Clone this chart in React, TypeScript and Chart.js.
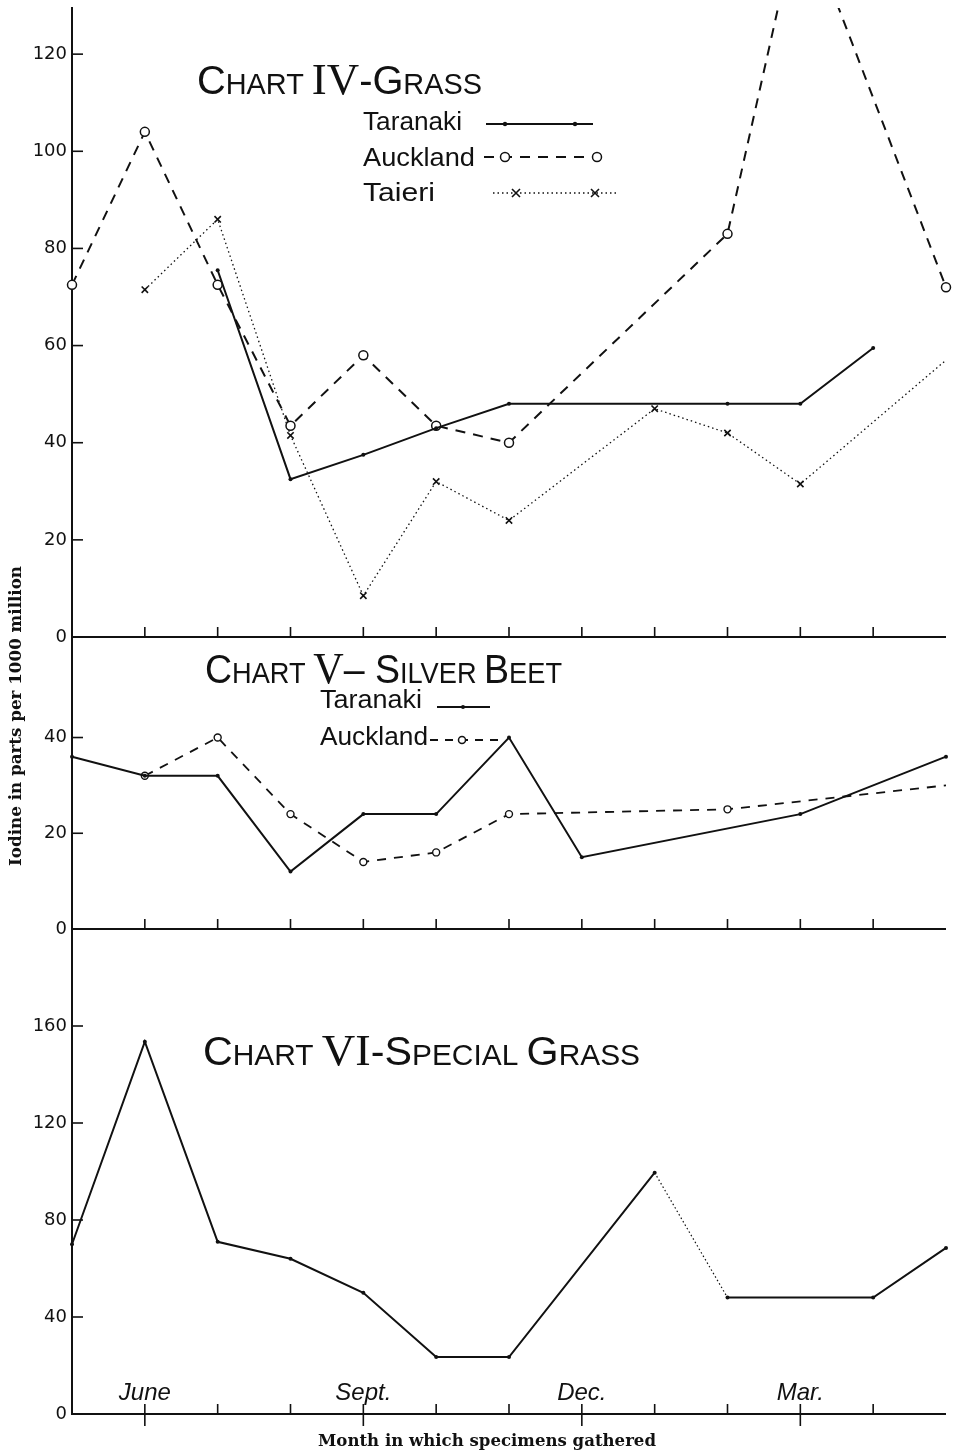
import { useEffect, useRef } from 'react';
import { Chart, registerables } from 'chart.js';

Chart.register(...registerables);

// ---------- data ----------
const months = ['May', 'June', 'July', 'Aug.', 'Sept.', 'Oct.', 'Nov.', 'Dec.', 'Jan.', 'Feb.', 'Mar.', 'Apr.', 'May'];
const labeledMonthIdx = [1, 4, 7, 10];

// Chart IV - Grass
const grassTaranaki = [null, null, 75.5, 32.5, 37.5, 43, 48, null, null, 48, 48, 59.5, null];
const grassAuckland = [72.5, 104, 72.5, 43.5, 58, 43.5, 40, null, null, 83, 150, null, 72];
const grassTaieri = [null, 71.5, 86, 41.5, 8.5, 32, 24, null, 47, 42, 31.5, null, 57];

// Chart V - Silver Beet
const beetTaranaki = [36, 32, 32, 12, 24, 24, 40, 15, null, null, 24, null, 36];
const beetAuckland = [null, 32, 40, 24, 14, 16, 24, null, null, 25, null, null, 30];

// Chart VI - Special Grass
const specialGrass = [70, 153.5, 71, 64, 50, 23.5, 23.5, null, 99.5, 48, null, 48, 68.5];
const specialDottedFrom = [8];

const grassTicks = [0, 20, 40, 60, 80, 100, 120];
const beetTicks = [0, 20, 40];
const specialTicks = [0, 40, 80, 120, 160];

const seriesNames = ['Taranaki', 'Auckland', 'Taieri'];
const yTitle = 'Iodine in parts per 1000 million';
const xTitle = 'Month in which specimens gathered';

type Part = [string, 'C' | 's' | 'R'];
const titleGrass: Part[] = [['C', 'C'], ['HART', 's'], [' ', 's'], ['IV', 'R'], ['-', 'C'], ['G', 'C'], ['RASS', 's']];
const titleBeet: Part[] = [['C', 'C'], ['HART', 's'], [' ', 's'], ['V', 'R'], ['– ', 'C'], ['S', 'C'], ['ILVER', 's'], [' ', 's'], ['B', 'C'], ['EET', 's']];
const titleSpecial: Part[] = [['C', 'C'], ['HART', 's'], [' ', 's'], ['VI', 'R'], ['-', 'C'], ['S', 'C'], ['PECIAL', 's'], [' ', 's'], ['G', 'C'], ['RASS', 's']];

// ---------- style ----------
const INK = '#111111';
const SANS = "'Liberation Sans', Arial, sans-serif";
const SERIF = "'Liberation Serif', 'DejaVu Serif', serif";

function fitText(ctx: CanvasRenderingContext2D, text: string, x: number, y: number, w: number, font: string) {
  ctx.save();
  ctx.font = font;
  ctx.textAlign = 'left';
  ctx.textBaseline = 'alphabetic';
  const m = ctx.measureText(text).width;
  ctx.translate(x, y);
  ctx.scale(w / m, 1);
  ctx.fillText(text, 0, 0);
  ctx.restore();
}

function drawTitle(ctx: CanvasRenderingContext2D, parts: Part[], x: number, y: number, w: number) {
  const fonts: Record<string, string> = {
    C: `40px ${SANS}`,
    s: `29px ${SANS}`,
    R: `45px ${SERIF}`,
  };
  ctx.save();
  ctx.textAlign = 'left';
  ctx.textBaseline = 'alphabetic';
  let total = 0;
  const widths = parts.map(([t, k]) => {
    ctx.font = fonts[k];
    const m = ctx.measureText(t).width;
    total += m;
    return m;
  });
  const sc = w / total;
  ctx.translate(x, y);
  ctx.scale(sc, 1);
  let cx = 0;
  parts.forEach(([t, k], i) => {
    ctx.font = fonts[k];
    ctx.fillText(t, cx, 0);
    cx += widths[i];
  });
  ctx.restore();
}

function circleMark(ctx: CanvasRenderingContext2D, x: number, y: number, r: number) {
  ctx.save();
  ctx.fillStyle = '#fff';
  ctx.lineWidth = 1.5;
  ctx.setLineDash([]);
  ctx.beginPath();
  ctx.arc(x, y, r, 0, Math.PI * 2);
  ctx.fill();
  ctx.stroke();
  ctx.restore();
}
function dotMark(ctx: CanvasRenderingContext2D, x: number, y: number, r: number) {
  ctx.beginPath();
  ctx.arc(x, y, r, 0, Math.PI * 2);
  ctx.fill();
}
function crossMark(ctx: CanvasRenderingContext2D, x: number, y: number, r: number) {
  ctx.save();
  ctx.setLineDash([]);
  ctx.lineWidth = 1.6;
  ctx.beginPath();
  ctx.moveTo(x - r, y - r); ctx.lineTo(x + r, y + r);
  ctx.moveTo(x - r, y + r); ctx.lineTo(x + r, y - r);
  ctx.stroke();
  ctx.restore();
}

const decor = {
  id: 'decor',
  afterDraw(chart: any) {
    const ctx: CanvasRenderingContext2D = chart.ctx;
    const x = chart.scales.x;
    const panels = [chart.scales.yGrass, chart.scales.yBeet, chart.scales.ySpecial];
    ctx.save();
    ctx.strokeStyle = INK;
    ctx.fillStyle = INK;
    panels.forEach((s: any, pi: number) => {
      ctx.lineWidth = 2;
      ctx.beginPath();
      ctx.moveTo(x.left, s.bottom);
      ctx.lineTo(x.right, s.bottom);
      ctx.stroke();
      ctx.lineWidth = 1.6;
      for (let i = 1; i < months.length - 1; i++) {
        const px = x.getPixelForValue(i);
        const major = pi === 2 && labeledMonthIdx.includes(i);
        ctx.beginPath();
        ctx.moveTo(px, s.bottom + (major ? 12 : 0));
        ctx.lineTo(px, s.bottom - 10);
        ctx.stroke();
      }
      s.ticks.forEach((t: any) => {
        const py = s.getPixelForValue(t.value);
        ctx.beginPath();
        ctx.moveTo(s.right, py);
        ctx.lineTo(s.right + 11, py);
        ctx.stroke();
      });
    });

    // month labels (inside bottom panel)
    const sp = chart.scales.ySpecial;
    ctx.save();
    ctx.textAlign = 'center';
    ctx.textBaseline = 'alphabetic';
    ctx.font = `italic 24px ${SANS}`;
    labeledMonthIdx.forEach((i) => {
      ctx.fillText(months[i], x.getPixelForValue(i), sp.bottom - 14);
    });
    ctx.restore();

    // axis titles
    fitText(ctx, xTitle, 318, 1446, 338, `bold 16px 'DejaVu Serif', serif`);
    ctx.save();
    ctx.translate(21, 866);
    ctx.rotate(-Math.PI / 2);
    fitText(ctx, yTitle, 0, 0, 300, `bold 16px 'DejaVu Serif', serif`);
    ctx.restore();

    // panel titles
    drawTitle(ctx, titleGrass, 197, 94, 285);
    drawTitle(ctx, titleBeet, 205, 683, 357);
    drawTitle(ctx, titleSpecial, 203, 1065, 437);

    // legend: grass
    const lf = `25px ${SANS}`;
    fitText(ctx, seriesNames[0], 363, 130, 99, lf);
    fitText(ctx, seriesNames[1], 363, 166, 112, lf);
    fitText(ctx, seriesNames[2], 363, 201, 72, lf);

    ctx.lineWidth = 2;
    ctx.setLineDash([]);
    ctx.beginPath(); ctx.moveTo(486, 124); ctx.lineTo(593, 124); ctx.stroke();
    dotMark(ctx, 505, 124, 2.2); dotMark(ctx, 575, 124, 2.2);

    ctx.setLineDash([10, 8]);
    ctx.beginPath(); ctx.moveTo(484, 157); ctx.lineTo(610, 157); ctx.stroke();
    ctx.setLineDash([]);
    circleMark(ctx, 505, 157, 4.5); circleMark(ctx, 597, 157, 4.5);

    ctx.lineWidth = 1.3;
    ctx.setLineDash([1.5, 3]);
    ctx.beginPath(); ctx.moveTo(493, 193); ctx.lineTo(618, 193); ctx.stroke();
    ctx.setLineDash([]);
    crossMark(ctx, 516, 193, 4); crossMark(ctx, 595, 193, 4);

    // legend: silver beet
    fitText(ctx, seriesNames[0], 320, 708, 102, lf);
    fitText(ctx, seriesNames[1], 320, 745, 108, lf);
    ctx.lineWidth = 2;
    ctx.beginPath(); ctx.moveTo(437, 707); ctx.lineTo(490, 707); ctx.stroke();
    dotMark(ctx, 463, 707, 2);
    ctx.setLineDash([8, 7]);
    ctx.beginPath(); ctx.moveTo(430, 740); ctx.lineTo(502, 740); ctx.stroke();
    ctx.setLineDash([]);
    circleMark(ctx, 462, 740, 3.5);

    ctx.restore();
  },
};

const clipBox = { left: 10, right: 10, top: 0, bottom: 0 };

function yScale(weight: number, stackWeight: number, max: number, ticks: number[]) {
  return {
    type: 'linear',
    position: 'left',
    stack: 'panels',
    stackWeight,
    weight,
    min: 0,
    max,
    afterFit: (s: any) => { s.width = 72; s.paddingTop = 0; s.paddingBottom = 0; },
    afterBuildTicks: (s: any) => { s.ticks = ticks.map((v) => ({ value: v })); },
    ticks: {
      color: INK,
      padding: 5,
      font: { family: "'DejaVu Sans', sans-serif", size: 18 },
    },
    grid: { drawOnChartArea: false, drawTicks: false },
    border: { display: true, color: INK, width: 2 },
  };
}

export default function App() {
  const ref = useRef<HTMLCanvasElement | null>(null);
  useEffect(() => {
    if (!ref.current) return;
    const chart = new Chart(ref.current, {
      type: 'line',
      data: {
        labels: months,
        datasets: [
          {
            label: 'Grass Taranaki', data: grassTaranaki, yAxisID: 'yGrass',
            borderColor: INK, borderWidth: 2, spanGaps: true, clip: clipBox,
            pointRadius: 2, pointBackgroundColor: INK, pointBorderWidth: 0,
          },
          {
            label: 'Grass Auckland', data: grassAuckland, yAxisID: 'yGrass',
            borderColor: INK, borderWidth: 2, borderDash: [10, 8], spanGaps: true, clip: clipBox,
            pointStyle: 'circle', pointRadius: 4.5, pointBackgroundColor: '#fff', pointBorderColor: INK, pointBorderWidth: 1.5,
          },
          {
            label: 'Grass Taieri', data: grassTaieri, yAxisID: 'yGrass',
            borderColor: INK, borderWidth: 1.3, borderDash: [1.5, 3], spanGaps: true, clip: clipBox,
            pointStyle: 'crossRot', pointRadius: (c: any) => (c.dataIndex === 12 ? 0 : 4.5), pointBorderColor: INK, pointBorderWidth: 1.6,
          },
          {
            label: 'Beet Taranaki', data: beetTaranaki, yAxisID: 'yBeet',
            borderColor: INK, borderWidth: 2, spanGaps: true, clip: clipBox,
            pointRadius: 2, pointBackgroundColor: INK, pointBorderWidth: 0,
          },
          {
            label: 'Beet Auckland', data: beetAuckland, yAxisID: 'yBeet',
            borderColor: INK, borderWidth: 1.8, borderDash: [9, 8], spanGaps: true, clip: clipBox,
            pointStyle: 'circle', pointRadius: (c: any) => (c.dataIndex === 12 ? 0 : 3.5), pointBackgroundColor: '#fff', pointBorderColor: INK, pointBorderWidth: 1.4,
          },
          {
            label: 'Special Grass', data: specialGrass, yAxisID: 'ySpecial',
            borderColor: INK, borderWidth: 2, spanGaps: true, clip: clipBox,
            pointRadius: 2, pointBackgroundColor: INK, pointBorderWidth: 0,
            segment: {
              borderDash: (c: any) => (specialDottedFrom.includes(c.p0DataIndex) ? [1.5, 2.5] : undefined),
              borderWidth: (c: any) => (specialDottedFrom.includes(c.p0DataIndex) ? 1.2 : undefined),
            },
          },
        ] as any,
      },
      options: {
        responsive: false,
        animation: false,
        layout: { padding: { top: 8, right: 12, bottom: 40, left: 0 } },
        plugins: { legend: { display: false }, tooltip: { enabled: false }, title: { display: false } },
        elements: { line: { tension: 0 } },
        scales: {
          x: { type: 'category', display: false, offset: false },
          ySpecial: yScale(1, 485, 200, specialTicks),
          yBeet: yScale(2, 292, 61, beetTicks),
          yGrass: yScale(3, 629, 129.5, grassTicks),
        } as any,
      },
      plugins: [decor],
    });
    return () => chart.destroy();
  }, []);

  return (
    <div style={{ position: 'absolute', left: 0, top: 0, width: 958, height: 1454, background: '#fff' }}>
      <canvas ref={ref} width={958} height={1454} style={{ display: 'block' }} />
    </div>
  );
}
